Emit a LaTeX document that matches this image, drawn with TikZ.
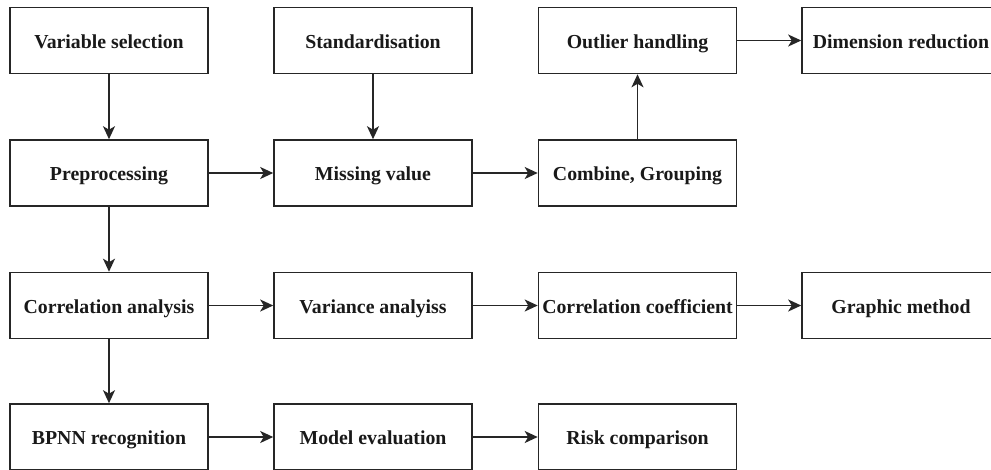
\documentclass[tikz,border=0pt]{standalone}
\usepackage{fontspec}
\setmainfont{Liberation Serif}
\usetikzlibrary{arrows.meta}
\begin{document}
\begin{tikzpicture}[x=1pt,y=-1pt,
  box/.style={draw=black!85, line width=1.6pt, minimum width=198pt, minimum height=66pt, inner sep=0pt, text height=16pt, text depth=1pt, font=\fontsize{19.8}{23}\selectfont\bfseries, text=black!90},
  conn/.style={draw=black!85, line width=1.6pt, -{Stealth[length=13pt,width=12pt,inset=3.5pt]}}]
\useasboundingbox (0,0) rectangle (991,469);
\clip (0,0) rectangle (991,469);
\fill[white] (0,0) rectangle (991,469);
\node[box] (vs) at (109,40.5) {Variable selection};
\node[box] (st) at (373,40.5) {Standardisation};
\node[box] (oh) at (637.5,40.5) {Outlier handling};
\node[box] (dr) at (901,40.5) {Dimension reduction};
\node[box] (pp) at (109,173) {Preprocessing};
\node[box] (mv) at (373,173) {Missing value};
\node[box] (cg) at (637.5,173) {Combine, Grouping};
\node[box] (ca) at (109,305.5) {Correlation analysis};
\node[box] (va) at (373,305.5) {Variance analyiss};
\node[box] (cc) at (637.5,305.5) {Correlation coefficient};
\node[box] (gm) at (901,305.5) {Graphic method};
\node[box] (bp) at (109,437) {BPNN recognition};
\node[box] (me) at (373,437) {Model evaluation};
\node[box] (rc) at (637.5,437) {Risk comparison};
\draw[conn] (vs) -- (pp);
\draw[conn] (st) -- (mv);
\draw[conn] (pp) -- (mv);
\draw[conn] (mv) -- (cg);
\draw[conn] (cg) -- (oh);
\draw[conn] (oh) -- (dr);
\draw[conn] (pp) -- (ca);
\draw[conn] (ca) -- (va);
\draw[conn] (va) -- (cc);
\draw[conn] (cc) -- (gm);
\draw[conn] (ca) -- (bp);
\draw[conn] (bp) -- (me);
\draw[conn] (me) -- (rc);
\end{tikzpicture}
\end{document}
